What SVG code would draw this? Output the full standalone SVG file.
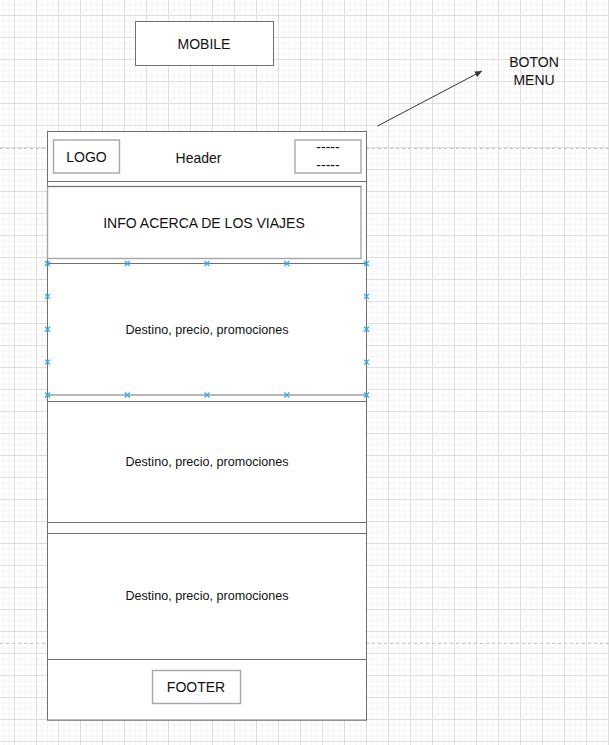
<svg xmlns="http://www.w3.org/2000/svg" width="609" height="745" viewBox="0 0 609 745">
<style>
.t{font-family:"Liberation Sans",Arial,sans-serif;fill:#111;text-anchor:middle}
.big{font-size:14px}
.sm{font-size:12.6px}
.main{fill:#fff;stroke:#707070;stroke-width:1}
.inner{fill:#fff;stroke:#a6a6a6;stroke-width:1.4}
.sel{stroke:#29aee8;stroke-width:1.3;fill:none}
</style>
<defs>
<pattern id="grid" patternUnits="userSpaceOnUse" x="14" y="15" width="22" height="22">
<path d="M6 0V22M11.5 0V22M17 0V22M0 6H22M0 11.5H22M0 17H22" stroke="#f4f4f4" stroke-width="1" fill="none"/>
<path d="M0.5 0V22M0 0.5H22" stroke="#dedede" stroke-width="1" fill="none"/>
</pattern>
<marker id="arr" markerWidth="8" markerHeight="8" refX="7" refY="4" orient="auto" markerUnits="userSpaceOnUse">
<path d="M0 0.8L7 4L0 7.2Z" fill="#333"/>
</marker>
<path id="x" d="M-2.5 -2.5L2.5 2.5M-2.5 2.5L2.5 -2.5"/>
</defs>
<rect width="609" height="745" fill="#fff"/>
<rect width="609" height="745" fill="url(#grid)"/>
<g id="page-breaks" stroke="#c4c4c4" stroke-width="1" stroke-dasharray="3 3">
<line x1="0" y1="148.5" x2="609" y2="148.5"/>
<line x1="0" y1="643.5" x2="609" y2="643.5"/>
</g>
<g id="mobile">
<rect class="main" x="135.5" y="21.5" width="138" height="44"/>
<text class="t big" x="204" y="49">MOBILE</text>
</g>
<g id="phone">
<rect class="main" x="47.5" y="131.5" width="319" height="588.5"/>
</g>
<g id="header">
<rect class="main" x="47.5" y="131.5" width="319" height="50"/>
<text class="t big" x="198.5" y="163">Header</text>
</g>
<g id="logo">
<rect class="inner" x="53.5" y="140" width="66" height="33"/>
<text class="t big" x="86.5" y="161.5">LOGO</text>
</g>
<g id="menu-button">
<rect class="inner" x="295" y="140" width="66" height="33"/>
<text class="t big" x="328" y="152">-----</text>
<text class="t big" x="328" y="170">-----</text>
</g>
<g id="info">
<rect class="inner" x="47.5" y="186.5" width="313.5" height="72"/>
<line x1="47.5" y1="186.5" x2="361" y2="186.5" stroke="#707070"/>
<text class="t big" x="204" y="227.5">INFO ACERCA DE LOS VIAJES</text>
</g>
<g id="card1">
<rect class="main" x="47.5" y="263.5" width="319" height="131.5"/>
<text class="t sm" x="207" y="334">Destino, precio, promociones</text>
<g class="sel">
<use href="#x" x="47.5" y="263.5"/><use href="#x" x="127.3" y="263.5"/><use href="#x" x="207" y="263.5"/><use href="#x" x="286.8" y="263.5"/><use href="#x" x="366.5" y="263.5"/>
<use href="#x" x="47.5" y="395"/><use href="#x" x="127.3" y="395"/><use href="#x" x="207" y="395"/><use href="#x" x="286.8" y="395"/><use href="#x" x="366.5" y="395"/>
<use href="#x" x="47.5" y="296.4"/><use href="#x" x="47.5" y="329.3"/><use href="#x" x="47.5" y="362.1"/>
<use href="#x" x="366.5" y="296.4"/><use href="#x" x="366.5" y="329.3"/><use href="#x" x="366.5" y="362.1"/>
</g>
</g>
<g id="card2">
<rect class="main" x="47.5" y="401.5" width="319" height="121"/>
<text class="t sm" x="207" y="466">Destino, precio, promociones</text>
</g>
<g id="card3">
<rect class="main" x="47.5" y="533.5" width="319" height="126"/>
<text class="t sm" x="207" y="600">Destino, precio, promociones</text>
</g>
<g id="footer">
<rect class="main" x="47.5" y="659.5" width="319" height="60.5"/>
<rect class="inner" x="152.5" y="670.5" width="88" height="33"/>
<text class="t big" x="196" y="692">FOOTER</text>
</g>
<g id="boton-menu">
<text class="t big" x="534" y="67">BOTON</text>
<text class="t big" x="534" y="85">MENU</text>
</g>
<g id="connectors">
<line x1="377.5" y1="126" x2="482" y2="71" stroke="#333" stroke-width="1" marker-end="url(#arr)"/>
</g>
</svg>
